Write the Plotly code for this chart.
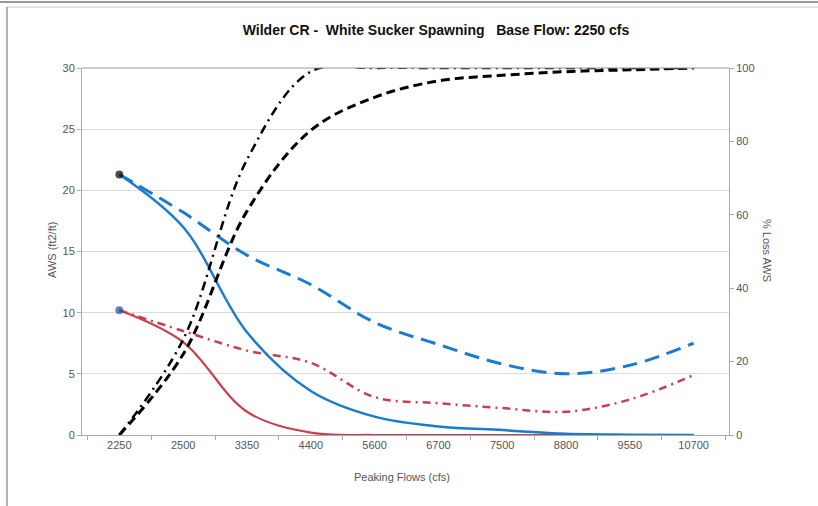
import plotly.graph_objects as go

# ---- data ----
categories = ["2250", "2500", "3350", "4400", "5600", "6700", "7500", "8800", "9550", "10700"]
aws_solid_blue = [21.3, 17.0, 8.4, 3.6, 1.5, 0.7, 0.4, 0.1, 0.03, 0.0]
aws_dash_blue = [21.3, 18.2, 14.7, 12.3, 9.2, 7.4, 5.8, 5.0, 5.7, 7.5]
aws_solid_red = [10.2, 7.6, 1.9, 0.2, 0.0, 0.0, 0.0, 0.0, 0.0, 0.0]
aws_dashdot_red = [10.2, 8.5, 6.9, 5.9, 3.1, 2.6, 2.2, 1.9, 2.9, 4.9]
loss_dashdot_black = [0, 26, 75, 99, 100, 100, 100, 100, 100, 100]
loss_dash_black = [0, 22, 61, 83, 92, 96.5, 98, 99, 99.5, 100]
left_ticks = [0, 5, 10, 15, 20, 25, 30]
right_ticks = [0, 20, 40, 60, 80, 100]

BLUE = "#1a7bd0"
RED = "#c8404f"
FONT = "Liberation Sans"
TICK_COLOR = "#555555"

first_marker = [8] + [0] * (len(categories) - 1)

fig = go.Figure()

fig.add_trace(go.Scatter(
    x=categories, y=loss_dash_black, yaxis="y2", mode="lines",
    line=dict(color="black", width=3, dash="9px,5px", shape="spline"),
    showlegend=False))
fig.add_trace(go.Scatter(
    x=categories, y=loss_dashdot_black, yaxis="y2", mode="lines",
    line=dict(color="black", width=2.5, dash="9px,5px,2px,5px", shape="spline"),
    showlegend=False))
fig.add_trace(go.Scatter(
    x=categories, y=aws_dash_blue, mode="lines",
    line=dict(color=BLUE, width=3, dash="15px,8px", shape="spline"),
    showlegend=False))
fig.add_trace(go.Scatter(
    x=categories, y=aws_dashdot_red, mode="lines",
    line=dict(color=RED, width=2.5, dash="8px,5px,2px,5px", shape="spline"),
    showlegend=False))
fig.add_trace(go.Scatter(
    x=categories, y=aws_solid_red, mode="lines+markers",
    line=dict(color=RED, width=2.2, shape="spline"),
    marker=dict(size=first_marker, color="#1f4e99", line=dict(width=0)),
    showlegend=False))
fig.add_trace(go.Scatter(
    x=categories, y=aws_solid_blue, mode="lines+markers",
    line=dict(color=BLUE, width=2.5, shape="spline"),
    marker=dict(size=first_marker, color="black", line=dict(width=0)),
    showlegend=False))

L, R, T, B = 82, 89, 68, 71
W, H = 818, 506
pw, ph = W - L - R, H - T - B

def px(xp):
    return (xp - L) / pw

def py(yp):
    return (H - B - yp) / ph

fig.update_layout(
    width=W, height=H,
    margin=dict(l=L, r=R, t=T, b=B),
    paper_bgcolor="white", plot_bgcolor="white",
    font=dict(family=FONT, color=TICK_COLOR, size=11),
    title=dict(text="<b>Wilder CR -  White Sucker Spawning   Base Flow: 2250 cfs</b>",
               x=436 / W, xref="container", xanchor="center",
               y=1 - 30 / H, yref="container", yanchor="middle",
               font=dict(family=FONT, size=14, color="#111")),
    xaxis=dict(type="category", categoryorder="array", categoryarray=categories,
               showgrid=False, showline=True, linecolor="#aaaaaa", linewidth=1,
               ticks="outside", ticklen=4, tickcolor="#aaaaaa", tickson="boundaries",
               tickfont=dict(size=11, color=TICK_COLOR), zeroline=False),
    yaxis=dict(range=[0, 30], tickvals=left_ticks, showgrid=True, gridcolor="#dcdcdc",
               showline=True, linecolor="#aaaaaa", linewidth=1, zeroline=False,
               ticks="outside", ticklen=4, tickcolor="#aaaaaa",
               tickfont=dict(size=11, color=TICK_COLOR)),
    yaxis2=dict(range=[0, 100], tickvals=right_ticks, overlaying="y", side="right",
                showgrid=False, showline=True, linecolor="#aaaaaa", linewidth=1,
                zeroline=False, ticks="outside", ticklen=4, tickcolor="#aaaaaa",
                tickfont=dict(size=11, color=TICK_COLOR)),
    showlegend=False,
)

# top border at 30 (darker)
fig.add_shape(type="line", xref="paper", yref="paper", x0=0, x1=1, y0=1, y1=1,
              line=dict(color="#999999", width=1.2))
# outer chart frame
fig.add_shape(type="line", xref="paper", yref="paper", x0=px(0), x1=px(W), y0=py(2), y1=py(2),
              line=dict(color="#999999", width=2))
fig.add_shape(type="line", xref="paper", yref="paper", x0=px(7), x1=px(W), y0=py(7), y1=py(7),
              line=dict(color="#c8c8c8", width=1))
fig.add_shape(type="line", xref="paper", yref="paper", x0=px(7), x1=px(7), y0=py(7), y1=py(H + 5),
              line=dict(color="#999999", width=1.5))

# axis titles
fig.add_annotation(text="AWS (ft2/ft)", xref="paper", yref="paper", x=px(44), y=py(250),
                   showarrow=False, textangle=-90, font=dict(size=11, color=TICK_COLOR))
fig.add_annotation(text="% Loss AWS", xref="paper", yref="paper", x=px(775), y=py(250),
                   showarrow=False, textangle=90, font=dict(size=11, color=TICK_COLOR))
fig.add_annotation(text="Peaking Flows (cfs)", xref="paper", yref="paper", x=px(402), y=py(485),
                   showarrow=False, font=dict(size=11, color=TICK_COLOR))

fig.write_html("out.html", config={"displayModeBar": False},
               post_script="document.body.style.margin='0px';document.body.style.overflow='hidden';")
